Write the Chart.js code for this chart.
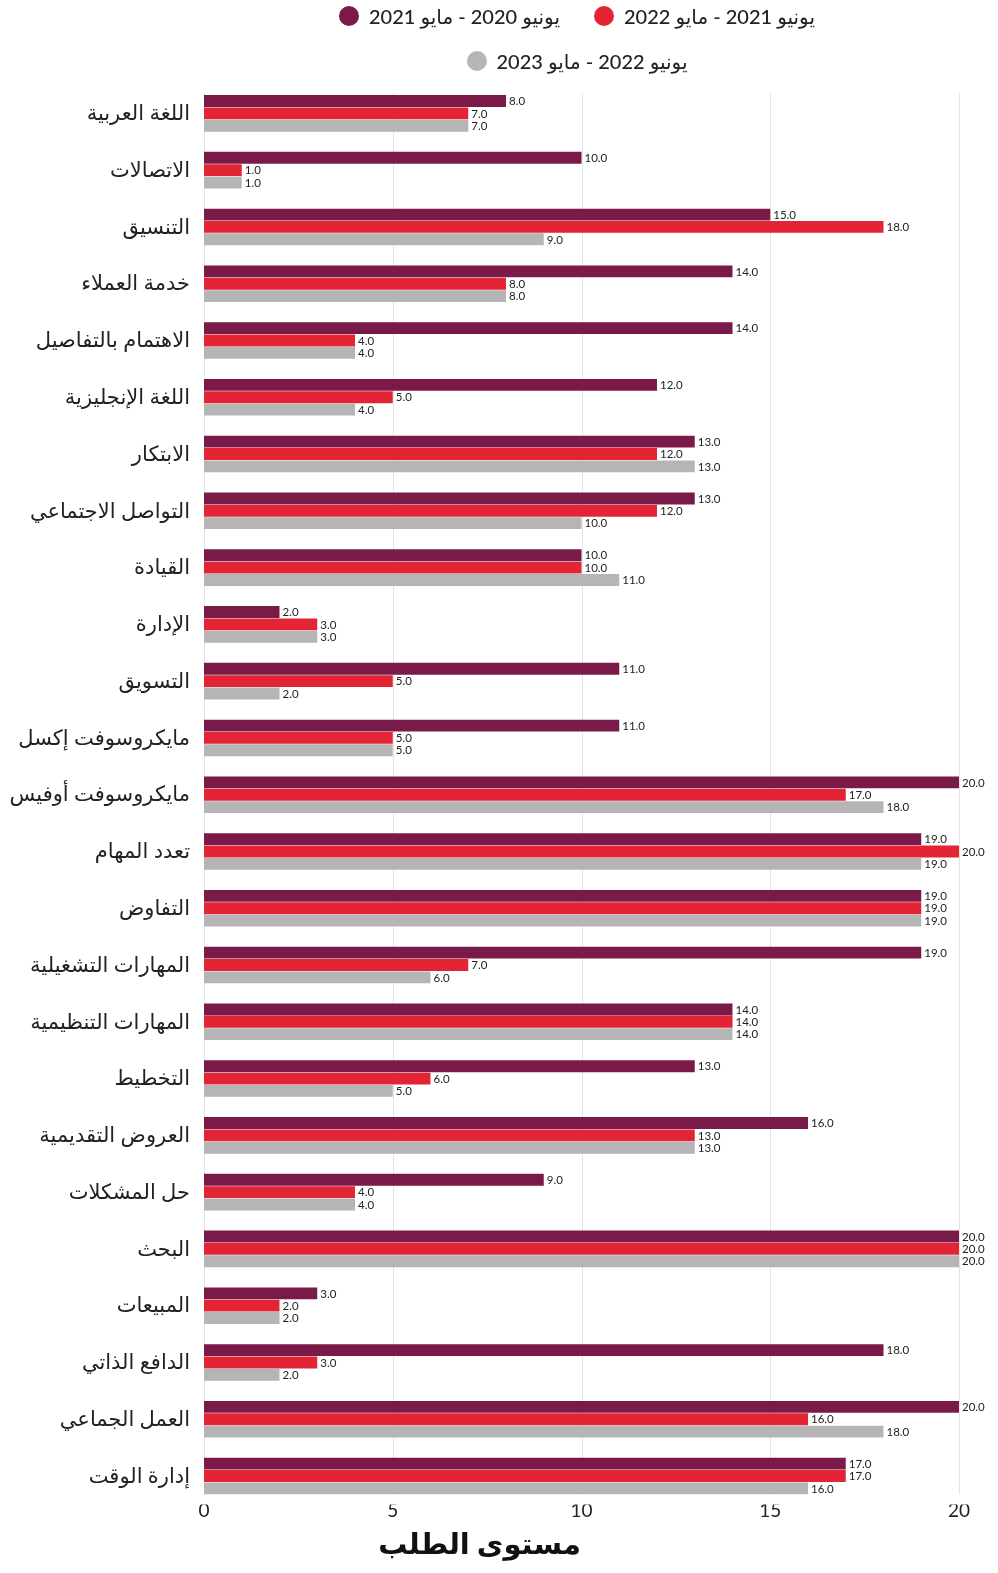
<!DOCTYPE html>
<html lang="ar">
<head>
<meta charset="utf-8">
<script src="https://cdn.jsdelivr.net/npm/chart.js@4"></script>
<style>
  html, body { margin: 0; padding: 0; background: #fff; }
  #wrap { position: relative; width: 998px; height: 1573px; }
  #legend { position: absolute; left: 0; top: 0; width: 1154px; font-family: Lato, "DejaVu Sans", sans-serif; font-size: 20px; font-weight: 500; color: #222; }
  .row { display: flex; justify-content: center; align-items: center; height: 26px; position: absolute; left: 0; width: 1154px; }
  .item { display: flex; align-items: center; margin: 0 17px; }
  .dot { width: 20px; height: 20px; border-radius: 50%; margin-right: 10px; }
</style>
</head>
<body>
<div id="wrap">
  <canvas id="chart" width="998" height="1573"></canvas>
  <div id="legend"></div>
</div>
<script>
const MAROON = '#7A1A48';
const RED    = '#E32434';
const GRAY   = '#B5B5B5';
const FONT   = 'Lato, "DejaVu Sans", sans-serif';

const skills = [
  'اللغة العربية', 'الاتصالات', 'التنسيق', 'خدمة العملاء', 'الاهتمام بالتفاصيل',
  'اللغة الإنجليزية', 'الابتكار', 'التواصل الاجتماعي', 'القيادة', 'الإدارة',
  'التسويق', 'مايكروسوفت إكسل', 'مايكروسوفت أوفيس', 'تعدد المهام', 'التفاوض',
  'المهارات التشغيلية', 'المهارات التنظيمية', 'التخطيط', 'العروض التقديمية', 'حل المشكلات',
  'البحث', 'المبيعات', 'الدافع الذاتي', 'العمل الجماعي', 'إدارة الوقت'
];
const y2021 = [8, 10, 15, 14, 14, 12, 13, 13, 10, 2, 11, 11, 20, 19, 19, 19, 14, 13, 16, 9, 20, 3, 18, 20, 17];
const y2022 = [7, 1, 18, 8, 4, 5, 12, 12, 10, 3, 5, 5, 17, 20, 19, 7, 14, 6, 13, 4, 20, 2, 3, 16, 17];
const y2023 = [7, 1, 9, 8, 4, 4, 13, 10, 11, 3, 2, 5, 18, 19, 19, 6, 14, 5, 13, 4, 20, 2, 2, 18, 16];
const seriesNames = ['يونيو 2020 - مايو 2021', 'يونيو 2021 - مايو 2022', 'يونيو 2022 - مايو 2023'];
const xTicks = [0, 5, 10, 15, 20];

// vertical grid lines only between the first and last bar
const gridPlugin = {
  id: 'shortGrid',
  beforeDatasetsDraw(chart) {
    const first = chart.getDatasetMeta(0).data[0];
    const lastMeta = chart.getDatasetMeta(chart.data.datasets.length - 1);
    const last = lastMeta.data[lastMeta.data.length - 1];
    const top = first.y - first.height / 2 - 2;
    const bottom = last.y + last.height / 2;
    const xs = chart.scales.x;
    const ctx = chart.ctx;
    ctx.save();
    ctx.strokeStyle = '#E4E4E4';
    ctx.lineWidth = 1;
    xTicks.forEach(v => {
      const x = Math.round(xs.getPixelForValue(v)) + 0.5;
      ctx.beginPath();
      ctx.moveTo(x, top);
      ctx.lineTo(x, bottom);
      ctx.stroke();
    });
    ctx.restore();
  }
};

// value printed at the end of every bar
const valuePlugin = {
  id: 'barValues',
  afterDatasetsDraw(chart) {
    const ctx = chart.ctx;
    ctx.save();
    ctx.font = '11.5px ' + FONT;
    ctx.fillStyle = '#222';
    ctx.textAlign = 'left';
    ctx.textBaseline = 'middle';
    chart.data.datasets.forEach((ds, i) => {
      chart.getDatasetMeta(i).data.forEach((bar, j) => {
        ctx.fillText(ds.data[j].toFixed(1), bar.x + 3, bar.y + 0.5);
      });
    });
    ctx.restore();
  }
};

const colors = [MAROON, RED, GRAY];
const values = [y2021, y2022, y2023];

new Chart(document.getElementById('chart').getContext('2d'), {
  type: 'bar',
  data: {
    labels: skills,
    datasets: values.map((d, i) => ({
      label: seriesNames[i], data: d, backgroundColor: colors[i],
      barPercentage: 0.96, categoryPercentage: 0.653
    }))
  },
  options: {
    indexAxis: 'y',
    responsive: false,
    animation: false,
    layout: { padding: { top: 85, right: 39, left: 0, bottom: 0 } },
    plugins: {
      legend: { display: false },
      tooltip: { enabled: false },
      title: {
        display: true, position: 'bottom', text: 'مستوى الطلب', color: '#111',
        font: { family: FONT, size: 29, weight: 'bold' }, padding: { top: 10, bottom: 11 }
      }
    },
    scales: {
      x: {
        min: 0, max: 20,
        afterBuildTicks: s => { s.ticks = xTicks.map(v => ({ value: v })); },
        grid: { display: false, drawTicks: false },
        border: { display: false },
        ticks: { color: '#222', font: { family: FONT, size: 19 }, padding: -5 }
      },
      y: {
        grid: { display: false, drawTicks: false },
        border: { display: false },
        ticks: { color: '#222', font: { family: FONT, size: 21 }, padding: 14 },
        afterFit: s => { s.width = 204; }
      }
    }
  },
  plugins: [gridPlugin, valuePlugin]
});

// legend: two entries on the first row, one on the second
const legend = document.getElementById('legend');
[[0, 1], [2]].forEach((idx, r) => {
  const row = document.createElement('div');
  row.className = 'row';
  row.style.top = (3 + r * 45) + 'px';
  idx.forEach(i => {
    const it = document.createElement('div');
    it.className = 'item';
    it.innerHTML = `<span class="dot" style="background:${colors[i]}"></span><span dir="rtl">${seriesNames[i]}</span>`;
    row.appendChild(it);
  });
  legend.appendChild(row);
});
</script>
</body>
</html>
